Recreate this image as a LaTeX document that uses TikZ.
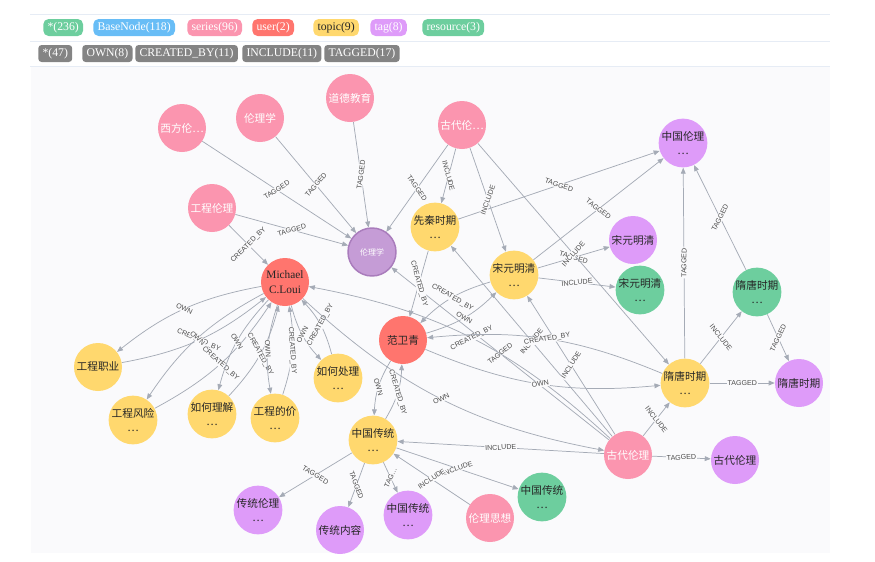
\documentclass[tikz,border=0pt]{standalone}
\usepackage{fontspec}
\setmainfont{Liberation Serif}
\setsansfont{Liberation Sans}
\newfontfamily\cjk{Noto Sans CJK SC}
\usetikzlibrary{arrows.meta}

\definecolor{cSeries}{HTML}{FB95AF}
\definecolor{cUser}{HTML}{FF756E}
\definecolor{cTopic}{HTML}{FFD86E}
\definecolor{cTag}{HTML}{DE9BF9}
\definecolor{cRes}{HTML}{6DCE9E}
\definecolor{cBase}{HTML}{68BDF6}
\definecolor{cRel}{HTML}{A5ABB6}
\definecolor{cPill}{HTML}{848484}
\definecolor{cPanel}{HTML}{FAFAFC}
\definecolor{cRule}{HTML}{E6ECF5}
\definecolor{cInk}{HTML}{262626}
\definecolor{cSel}{HTML}{C59CD6}
\definecolor{cSelRing}{HTML}{A97CBC}

\pgfdeclarelayer{panel}
\pgfdeclarelayer{edges}
\pgfsetlayers{panel,edges,main}

\tikzset{
  gnode/.style={circle, minimum size=36pt, inner sep=0pt, align=center, text=cInk,
    font=\cjk\fontsize{8}{11}\selectfont},
  series/.style={gnode, fill=cSeries, text=white},
  user/.style={gnode, fill=cUser},
  topic/.style={gnode, fill=cTopic},
  tag/.style={gnode, fill=cTag},
  res/.style={gnode, fill=cRes},
  rel/.style={draw=cRel, line width=0.55pt, -{Triangle[length=4.5pt,width=3.6pt]}},
  lbl/.style={midway, sloped, fill=cPanel, inner sep=0.5pt, text=black!70,
    font=\sffamily\fontsize{5.3}{5.3}\selectfont},
  pair/.style={bend left=14},
  pill/.style={anchor=west, rounded corners=4pt, minimum height=12.75pt, inner xsep=3.2pt,
    inner ysep=0pt, text=white, font=\fontsize{8.8}{10}\selectfont},
  rpill/.style={pill, fill=cPill, rounded corners=2.5pt}
}

\begin{document}
\begin{tikzpicture}[x=0.75pt,y=0.75pt,yscale=-1,xscale=1]
\useasboundingbox (0,0) rectangle (875,561);

%Panel and rules
\begin{pgfonlayer}{panel}
\fill [cPanel] (31,67) rectangle (830,553);
\draw [cRule, line width=0.6pt] (30,14) -- (830,14);
\draw [cRule, line width=0.6pt] (30,41) -- (830,41);
\draw [cRule, line width=0.6pt] (30,66) -- (830,66);
\end{pgfonlayer}

% Legend: node labels
\node [pill, fill=cRes] (lgAll) at (43,27.5) {*(236)};
\node [pill, fill=cBase] (lgBase) at (93,27.5) {BaseNode(118)};
\node [pill, fill=cSeries] (lgSeries) at (187,27.5) {series(96)};
\node [pill, fill=cUser] (lgUser) at (252,27.5) {user(2)};
\node [pill, fill=cTopic, text=cInk] (lgTopic) at (313,27.5) {topic(9)};
\node [pill, fill=cTag] (lgTag) at (370,27.5) {tag(8)};
\node [pill, fill=cRes] (lgRes) at (422,27.5) {resource(3)};

% Legend: relationship types
\node [rpill] (lgRel) at (38,53.5) {*(47)};
\node [rpill] (lgOwn) at (82,53.5) {OWN(8)};
\node [rpill] (lgCreated) at (135,53.5) {CREATED\_BY(11)};
\node [rpill] (lgInclude) at (242,53.5) {INCLUDE(11)};
\node [rpill] (lgTagged) at (324,53.5) {TAGGED(17)};

% series
\node [series] (xifang) at (182,128) {西方伦…};
\node [series] (lunlixueS) at (260,118) {伦理学};
\node [series] (daode) at (350,98) {道德教育};
\node [series] (gudaiTop) at (462,125) {古代伦…};
\node [series] (gclunli) at (212,208) {工程伦理};
\node [series] (gudai) at (628,455) {古代伦理};
\node [series] (lunliSixiang) at (490,518) {伦理思想};

% users
\node [user, font=\fontsize{8.5}{11}\selectfont] (michael) at (285,282) {Michael\\C.Loui};
\node [user] (fan) at (403,340) {范卫青};

% topics
\node [topic] (xianqin) at (435,227) {先秦时期\\…};
\node [topic] (songyuan) at (514,275) {宋元明清\\…};
\node [topic] (suitang) at (685,383) {隋唐时期\\…};
\node [topic] (zgctong) at (373,440) {中国传统\\…};
\node [topic] (gcZhiye) at (98,367) {工程职业};
\node [topic] (gcFengxian) at (133,420) {工程风险\\…};
\node [topic] (ruheLijie) at (212,414) {如何理解\\…};
\node [topic] (gcJiazhi) at (275,418) {工程的价\\…};
\node [topic] (ruheChuli) at (338,378) {如何处理\\…};

% tags
\node [tag, fill=cSel, draw=cSelRing, line width=1.1pt, text=white, font=\cjk\fontsize{6}{7}\selectfont] (lunlixueT) at (372,252) {伦理学};
\node [tag] (zglunliT) at (683,143) {中国伦理\\…};
\node [tag] (songyuanT) at (633,240) {宋元明清};
\node [tag] (suitangT) at (799,383) {隋唐时期};
\node [tag] (gudaiT) at (735,460) {古代伦理};
\node [tag] (ctLunli) at (258,510) {传统伦理\\…};
\node [tag] (ctNeirong) at (340,530) {传统内容};
\node [tag] (zgctongT) at (408,515) {中国传统\\…};

% resources
\node [res] (songyuanR) at (640,290) {宋元明清\\…};
\node [res] (suitangR) at (757,292) {隋唐时期\\…};
\node [res] (zgctongR) at (542,497) {中国传统\\…};

\begin{pgfonlayer}{edges}
% TAGGED
\draw [rel] (xifang) -- node[lbl]{TAGGED} (lunlixueT);
\draw [rel] (lunlixueS) -- node[lbl]{TAGGED} (lunlixueT);
\draw [rel] (daode) -- node[lbl]{TAGGED} (lunlixueT);
\draw [rel] (gudaiTop) -- node[lbl]{TAGGED} (lunlixueT);
\draw [rel] (gclunli) -- node[lbl]{TAGGED} (lunlixueT);
\draw [rel] (gudai) -- node[lbl]{TAGGED} (lunlixueT);
\draw [rel] (xianqin) -- node[lbl]{TAGGED} (zglunliT);
\draw [rel] (songyuan) -- node[lbl]{TAGGED} (zglunliT);
\draw [rel] (songyuan) -- node[lbl]{TAGGED} (songyuanT);
\draw [rel] (suitang) -- node[lbl]{TAGGED} (zglunliT);
\draw [rel] (suitangR) -- node[lbl]{TAGGED} (zglunliT);
\draw [rel] (suitangR) -- node[lbl]{TAGGED} (suitangT);
\draw [rel] (suitang) -- node[lbl]{TAGGED} (suitangT);
\draw [rel] (gudai) -- node[lbl]{TAGGED} (gudaiT);
\draw [rel] (zgctong) -- node[lbl]{TAGGED} (ctLunli);
\draw [rel] (zgctong) -- node[lbl]{TAGGED} (ctNeirong);
\draw [rel] (zgctong) -- node[lbl]{TAG…} (zgctongT);

% INCLUDE
\draw [rel] (gudaiTop) -- node[lbl]{INCLUDE} (xianqin);
\draw [rel] (gudaiTop) -- node[lbl]{INCLUDE} (songyuan);
\draw [rel] (gudaiTop) -- node[lbl]{INCLUDE} (suitang);
\draw [rel] (gudai) -- node[lbl]{INCLUDE} (xianqin);
\draw [rel] (gudai) -- node[lbl]{INCLUDE} (songyuan);
\draw [rel] (gudai) -- node[lbl]{INCLUDE} (suitang);
\draw [rel] (gudai) -- node[lbl]{INCLUDE} (zgctong);
\draw [rel] (songyuan) -- node[lbl]{INCLUDE} (songyuanR);
\draw [rel] (suitang) -- node[lbl]{INCLUDE} (suitangR);
\draw [rel] (zgctong) -- node[lbl]{INCLUDE} (zgctongR);
\draw [rel] (lunliSixiang) -- node[lbl]{INCLUDE} (zgctong);

% CREATED_BY and OWN
\draw [rel] (gclunli) -- node[lbl]{CREATED\_BY} (michael);
\foreach \t in {gcZhiye,gcFengxian,ruheLijie,gcJiazhi,ruheChuli}{
  \draw [rel] (michael) to[pair] node[lbl]{OWN} (\t);
  \draw [rel] (\t) to[pair] node[lbl]{CREATED\_BY} (michael);
}
\draw [rel] (michael) to[bend left=16] node[lbl]{OWN} (gudai);
\draw [rel] (gudai) to[bend left=16] node[lbl]{CREATED\_BY} (michael);
\draw [rel] (xianqin) -- node[lbl]{CREATED\_BY} (fan);
\foreach \t in {songyuan,suitang,zgctong}{
  \draw [rel] (fan) to[pair] node[lbl]{OWN} (\t);
  \draw [rel] (\t) to[pair] node[lbl]{CREATED\_BY} (fan);
}
\end{pgfonlayer}

\end{tikzpicture}
\end{document}
